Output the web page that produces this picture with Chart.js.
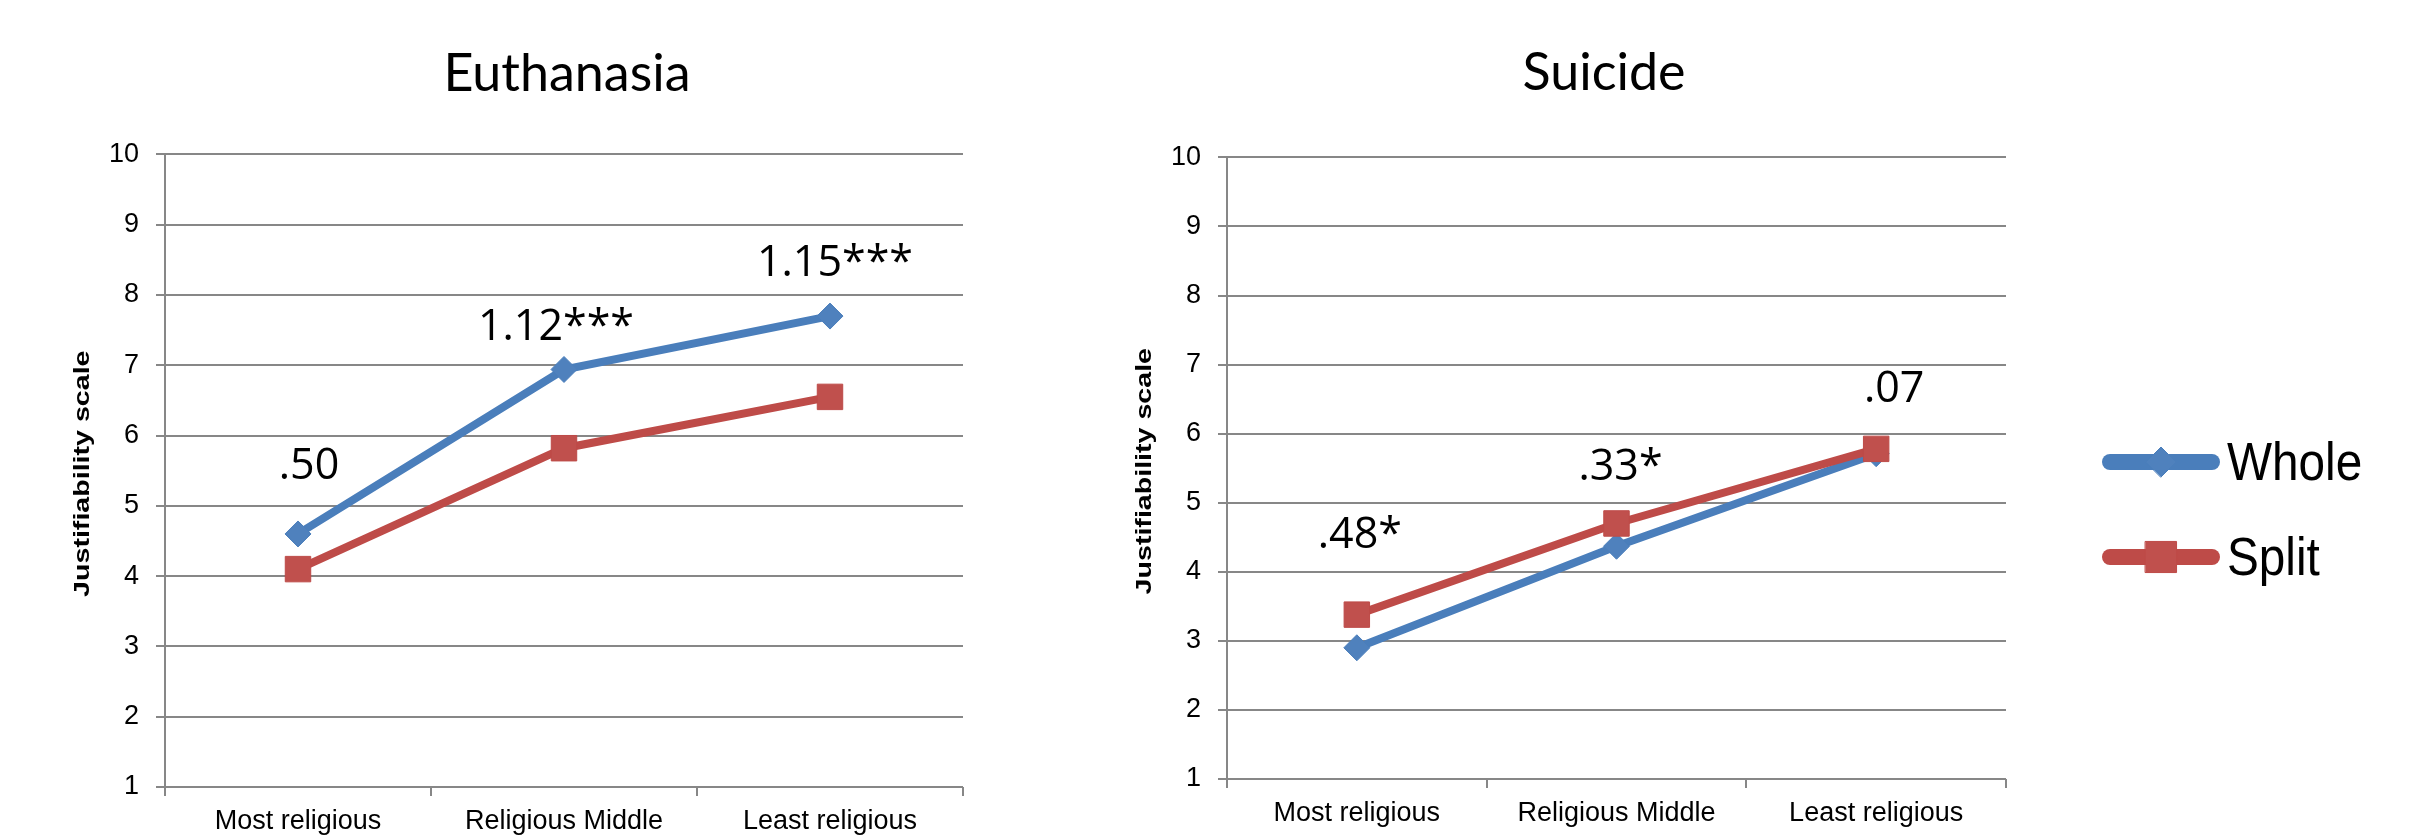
<!DOCTYPE html>
<html>
<head>
<meta charset="utf-8">
<script src="https://cdn.jsdelivr.net/npm/chart.js@4.4.1/dist/chart.umd.min.js"></script>
<style>
  html, body { margin: 0; padding: 0; background: #fff; }
  body { width: 2423px; height: 837px; position: relative; overflow: hidden; }
  #panelA { position: absolute; left: 0; top: 0; width: 1134px; height: 837px; }
  #panelB { position: absolute; left: 1134px; top: 0; width: 1289px; height: 837px; }
</style>
</head>
<body>
<div id="panelA"><canvas id="euthanasia"></canvas></div>
<div id="panelB"><canvas id="suicide"></canvas></div>
<script>
// Religiosity groups on the x axis
const categories = ['Most religious', 'Religious Middle', 'Least religious'];
const seriesNames = ['Whole', 'Split'];

// Mean justifiability, euthanasia
const euthanasiaWhole = [4.60, 6.94, 7.70];
const euthanasiaSplit = [4.10, 5.82, 6.55];
const euthanasiaGaps = ['.50', '1.12***', '1.15***'];

// Mean justifiability, suicide
const suicideWhole = [2.90, 4.37, 5.71];
const suicideSplit = [3.38, 4.70, 5.78];
const suicideGaps = ['.48*', '.33*', '.07'];

const yTicks = [1, 2, 3, 4, 5, 6, 7, 8, 9, 10];
const axisTitle = 'Justifiability scale';

const BLUE = '#4A7EBB', BLUE_FILL = '#4F81BD';
const RED = '#BE4B48', RED_FILL = '#C0504D';
const GRID = '#878787';
const TICK_FONT = { family: '"Liberation Sans", Arial, sans-serif', size: 27 };

// Difference labels written above each pair of points
const gapLabels = {
  id: 'gapLabels',
  afterDatasetsDraw(chart, args, opts) {
    const { ctx } = chart;
    const x = chart.scales.x, y = chart.scales.y;
    const a = chart.data.datasets[0].data, b = chart.data.datasets[1].data;
    ctx.save();
    ctx.font = opts.font;
    ctx.fillStyle = '#000';
    ctx.textAlign = 'center';
    ctx.textBaseline = 'alphabetic';
    opts.texts.forEach((t, i) => {
      const top = y.getPixelForValue(Math.max(a[i], b[i]));
      ctx.fillText(t, x.getPixelForValue(i) + opts.dx[i], top - opts.rise[i]);
    });
    ctx.restore();
  }
};

// Rotated value-axis title, drawn slightly tall
const sideTitle = {
  id: 'sideTitle',
  afterDraw(chart, args, opts) {
    const { ctx, chartArea } = chart;
    ctx.save();
    ctx.translate(chartArea.left - opts.gap, (chartArea.top + chartArea.bottom) / 2 + opts.shift);
    ctx.rotate(-Math.PI / 2);
    ctx.scale(opts.stretch, 1);
    ctx.font = opts.font;
    ctx.fillStyle = '#000';
    ctx.textAlign = 'center';
    ctx.textBaseline = 'middle';
    ctx.fillText(opts.text, 0, 0);
    ctx.restore();
  }
};

// Series key with line + marker swatches
const seriesKey = {
  id: 'seriesKey',
  afterDraw(chart, args, opts) {
    if (!opts.show) return;
    const { ctx } = chart;
    chart.data.datasets.forEach((ds, i) => {
      const y = opts.top + i * opts.rowGap;
      ctx.save();
      ctx.filter = 'blur(0.7px)';
      ctx.strokeStyle = ds.borderColor;
      ctx.lineWidth = opts.lineWidth;
      ctx.lineCap = 'round';
      ctx.beginPath();
      ctx.moveTo(opts.x0, y);
      ctx.lineTo(opts.x1, y);
      ctx.stroke();
      ctx.fillStyle = ds.pointBackgroundColor;
      ctx.strokeStyle = ds.pointBorderColor;
      ctx.lineWidth = 1;
      Chart.helpers.drawPoint(ctx, { pointStyle: ds.pointStyle, radius: opts.radius[i], rotation: 0, borderWidth: 1 },
        (opts.x0 + opts.x1) / 2, y);
      ctx.fillStyle = '#000';
      ctx.font = opts.font;
      ctx.textAlign = 'left';
      ctx.textBaseline = 'alphabetic';
      ctx.translate(opts.textX, y + opts.baseDy);
      ctx.scale(opts.textSqueeze, 1);
      ctx.fillText(ds.label, 0, 0);
      ctx.restore();
    });
  }
};

function buildChart(id, title, whole, split, gaps, lay) {
  return new Chart(document.getElementById(id), {
    type: 'line',
    data: {
      labels: categories,
      datasets: [
        {
          label: seriesNames[0], data: whole,
          borderColor: BLUE, backgroundColor: BLUE_FILL,
          pointBackgroundColor: BLUE_FILL, pointBorderColor: BLUE,
          pointStyle: 'rectRot', pointRadius: 13, pointBorderWidth: 1,
          borderWidth: 8, tension: 0, order: 2
        },
        {
          label: seriesNames[1], data: split,
          borderColor: RED, backgroundColor: RED_FILL,
          pointBackgroundColor: RED_FILL, pointBorderColor: RED,
          pointStyle: 'rect', pointRadius: 18, pointBorderWidth: 1,
          borderWidth: 8, tension: 0, order: 1
        }
      ]
    },
    options: {
      responsive: true,
      maintainAspectRatio: false,
      animation: false,
      devicePixelRatio: 1,
      events: [],
      layout: { padding: { left: 0, top: 0, right: lay.padRight, bottom: 0 } },
      plugins: {
        legend: { display: false },
        tooltip: { enabled: false },
        title: {
          display: true, text: title, color: '#000',
          font: { family: 'Lato, sans-serif', size: 52, weight: 'normal', lineHeight: 1.2 },
          padding: { top: lay.titleTop, bottom: lay.titleBottom }
        },
        gapLabels: {
          texts: gaps, dx: lay.labelDx, rise: lay.labelRise,
          font: '43px "Open Sans", sans-serif'
        },
        sideTitle: {
          text: axisTitle, gap: 82, shift: 3, stretch: 1.3,
          font: 'bold 22px "Liberation Sans", Arial, sans-serif'
        },
        seriesKey: lay.key
      },
      scales: {
        x: {
          type: 'category',
          offset: true,
          grid: { display: true, offset: true, drawOnChartArea: false, drawTicks: true, tickLength: 9, color: GRID, lineWidth: 2 },
          border: { display: false },
          ticks: { font: TICK_FONT, color: '#000', padding: 9, maxRotation: 0, autoSkip: false },
          afterFit: s => { s.height = lay.xHeight; }
        },
        y: {
          type: 'linear', position: 'left',
          min: yTicks[0], max: yTicks[yTicks.length - 1],
          grid: { color: GRID, lineWidth: 2, tickLength: 9 },
          border: { display: true, color: GRID, width: 2 },
          ticks: { font: TICK_FONT, color: '#000', padding: 17, stepSize: 1 },
          afterBuildTicks: s => { s.ticks = yTicks.map(v => ({ value: v })); },
          afterFit: s => { s.width = lay.yWidth; }
        },
        spare: {
          type: 'linear', position: 'right', display: true,
          grid: { display: false }, border: { display: false }, ticks: { display: false },
          afterFit: s => { s.width = lay.spareWidth; }
        }
      }
    },
    plugins: [gapLabels, sideTitle, seriesKey]
  });
}

buildChart('euthanasia', 'Euthanasia', euthanasiaWhole, euthanasiaSplit, euthanasiaGaps, {
  padRight: 0, titleTop: 43, titleBottom: 49, xHeight: 50, yWidth: 165, spareWidth: 171,
  labelDx: [11, -8, 5], labelRise: [55, 29, 40],
  key: { show: false }
});

buildChart('suicide', 'Suicide', suicideWhole, suicideSplit, suicideGaps, {
  padRight: 349, titleTop: 42, titleBottom: 53, xHeight: 58, yWidth: 93, spareWidth: 68,
  labelDx: [3, 4, 18], labelRise: [67, 43, 47],
  key: {
    show: true, x0: 976, x1: 1078, top: 462, rowGap: 95, lineWidth: 16,
    radius: [15, 22], textX: 1093, baseDy: 18, textSqueeze: 0.9,
    font: '53px "Liberation Sans", Arial, sans-serif'
  }
});
</script>
</body>
</html>
